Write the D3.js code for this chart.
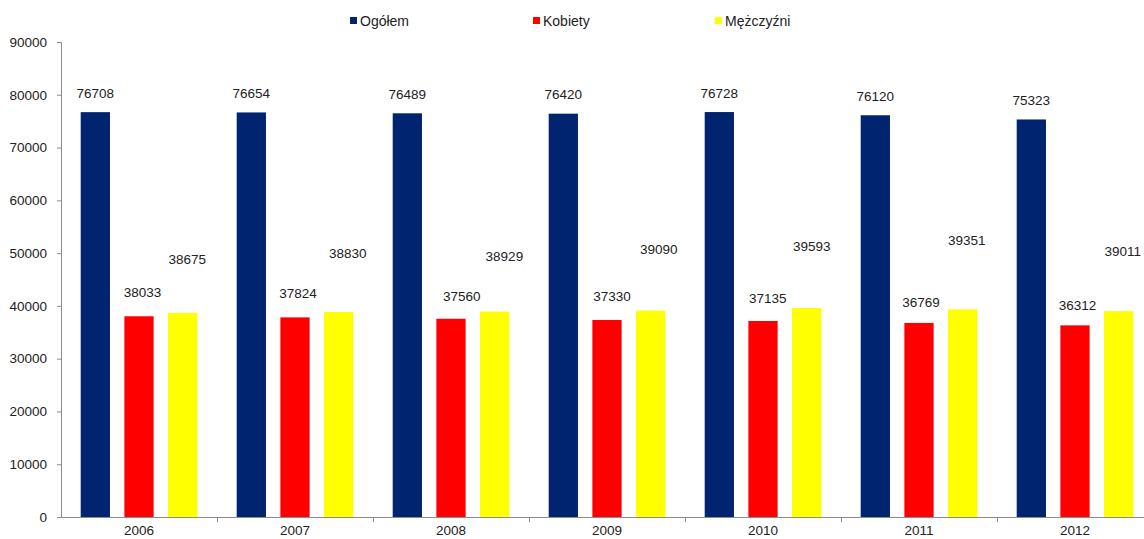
<!DOCTYPE html>
<html><head><meta charset="utf-8">
<script src="https://cdn.jsdelivr.net/npm/d3@7"></script>
<style>body{margin:0;background:#fff}svg{display:block;font-family:"Liberation Sans",Arial,sans-serif}</style>
</head><body><svg id="c" width="1144" height="539"></svg>
<script>
const years = ["2006","2007","2008","2009","2010","2011","2012"];
const series = ["Ogółem","Kobiety","Mężczyźni"];
const ogolem = [76708,76654,76489,76420,76728,76120,75323];
const kobiety = [38033,37824,37560,37330,37135,36769,36312];
const mezczyzni = [38675,38830,38929,39090,39593,39351,39011];
const yTicks = [0,10000,20000,30000,40000,50000,60000,70000,80000,90000];
const colors = ["#002470","#ff0000","#ffff00"];
// label placement tweaks (px) mimicking the original
const labelLift = [[19,19,19,19,19,19,19],[24,24,22,24,23,21,20],[54,59,55.5,61,62,69,60]];
const labelDx = [[0,0,0,0,0,0,0],[3.5,3,10.7,5,4.7,2,2.4],[4.5,9,9.7,8,5,4,4]];

const values = [ogolem, kobiety, mezczyzni];
const svg = d3.select("#c");
const x0 = d3.scaleBand().domain(years).range([61, 61+156*7]).paddingInner(0).paddingOuter(0);
const x1 = d3.scaleBand().domain(series).range([19.7, 136.3]).paddingInner(0.33);
const y = d3.scaleLinear().domain([0,90000]).range([517,42]);

// axes
const yAxis = svg.append("g").attr("transform","translate(61,0)")
  .call(d3.axisLeft(y).tickValues(yTicks).tickSize(4).tickPadding(10).tickFormat(d3.format("d")));
yAxis.select(".domain").attr("stroke","#8c8c8c").attr("d","M-4,42.5H0.5V517.5");
yAxis.selectAll(".tick line").attr("stroke","#8c8c8c");
yAxis.selectAll("text").attr("fill","#222").style("font-size","13.5px").style("font-family","Liberation Sans, Arial, sans-serif");

const xAxis = svg.append("g").attr("transform","translate(0,517)")
  .call(d3.axisBottom(x0).tickSize(0).tickPadding(8));
xAxis.select(".domain").attr("stroke","#8c8c8c").attr("d","M61,0.5H1144");
xAxis.selectAll(".tick line").remove();
xAxis.selectAll("text").attr("fill","#222").style("font-size","13.5px").style("font-family","Liberation Sans, Arial, sans-serif");
svg.append("g").selectAll("line").data(years).join("line")
  .attr("x1",d=>x0(d)+x0.bandwidth()+0.5).attr("x2",d=>x0(d)+x0.bandwidth()+0.5)
  .attr("y1",517).attr("y2",522).attr("stroke","#8c8c8c");

// bars
series.forEach((s,si)=>{
  const g = svg.append("g");
  g.selectAll("rect").data(years).join("rect")
    .attr("x",(d,i)=>x0(d)+x1(s))
    .attr("y",(d,i)=>y(values[si][i]))
    .attr("width",x1.bandwidth())
    .attr("height",(d,i)=>y(0)-y(values[si][i]))
    .attr("fill",colors[si]);
  g.selectAll("text").data(years).join("text")
    .attr("x",(d,i)=>x0(d)+x1(s)+x1.bandwidth()/2+labelDx[si][i])
    .attr("y",(d,i)=>y(values[si][i])-labelLift[si][i])
    .attr("dy","0.35em").attr("text-anchor","middle")
    .attr("fill","#222").style("font-size","13.5px")
    .text((d,i)=>values[si][i]);
});

// legend
const legX = [350,533,715];
const leg = svg.append("g");
series.forEach((s,i)=>{
  leg.append("rect").attr("x",legX[i]).attr("y",17).attr("width",7).attr("height",7).attr("fill",colors[i]);
  leg.append("text").attr("x",legX[i]+10).attr("y",21).attr("dy","0.35em")
    .attr("fill","#222").style("font-size","14px").text(s);
});
</script></body></html>
